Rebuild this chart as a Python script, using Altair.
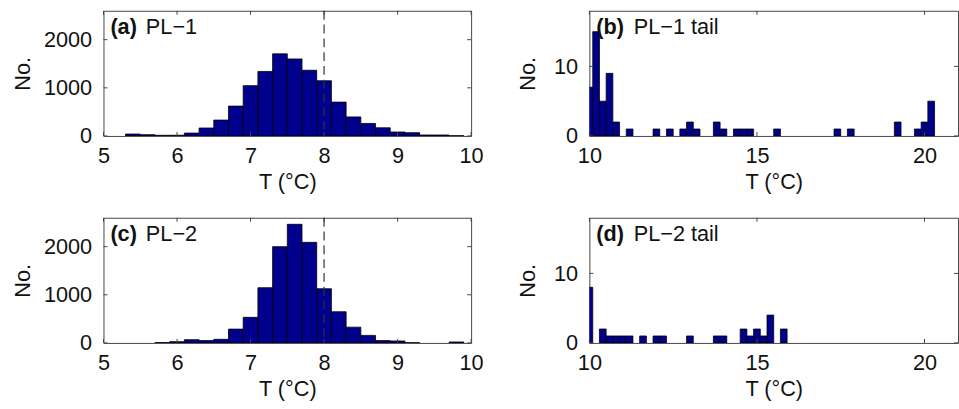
import altair as alt
import pandas as pd

# ---------------- data ----------------
PL1_T = [5.4, 5.6, 5.8, 6.0, 6.2, 6.4, 6.6, 6.8, 7.0, 7.2, 7.4, 7.6, 7.8, 8.0,
         8.2, 8.4, 8.6, 8.8, 9.0, 9.2, 9.4, 9.6, 9.8]
PL1_N = [40, 27, 14, 15, 60, 165, 330, 620, 1045, 1340, 1705, 1600, 1365, 1147,
         703, 396, 260, 170, 82, 68, 20, 20, 5]

PL2_T = [5.8, 6.0, 6.2, 6.4, 6.6, 6.8, 7.0, 7.2, 7.4, 7.6, 7.8, 8.0, 8.2, 8.4,
         8.6, 8.8, 9.0, 9.2, 9.8]
PL2_N = [7, 27, 68, 48, 75, 287, 532, 1147, 2000, 2464, 2089, 1126, 648, 328,
         157, 48, 41, 5, 20]

PL1_TAIL_T = [10.0, 10.2, 10.4, 10.6, 10.8, 11.2, 12.0, 12.4, 12.8, 13.0, 13.2,
              13.8, 14.0, 14.4, 14.6, 14.8, 15.6, 17.4, 17.8, 19.2, 19.8, 20.0, 20.2]
PL1_TAIL_N = [7, 15, 5, 9, 2, 1, 1, 1, 1, 2, 1, 2, 1, 1, 1, 1, 1, 1, 1, 2, 1, 2, 5]

PL2_TAIL_T = [10.0, 10.4, 10.6, 10.8, 11.0, 11.2, 11.6, 12.0, 12.2, 13.0, 13.8,
              14.0, 14.6, 14.8, 15.0, 15.2, 15.4, 15.8]
PL2_TAIL_N = [8, 2, 1, 1, 1, 1, 1, 1, 1, 1, 1, 1, 2, 1, 2, 1, 4, 2]

MAIN_XTICKS = [5, 6, 7, 8, 9, 10]
MAIN_YTICKS = [0, 1000, 2000]
TAIL_XTICKS = [10, 15, 20]
TAIL_YTICKS = [0, 10]
THRESHOLD = [8]

FONT = "Liberation Sans"
NAVY = "#00008c"
FRAME = "#444444"
H = 127
TICK = 4
HALF_BIN = 0.1


def panel(T, N, xdom, ydom, xticks, yticks, bold, rest, rest_dx, dashed, ytpad, W):
    def X(field):
        return alt.X(field, type="quantitative",
                     scale=alt.Scale(domain=xdom, nice=False, zero=False),
                     axis=alt.Axis(values=xticks, format="d", labelPadding=10,
                                   titlePadding=5, labelFlush=False),
                     title="T (°C)")

    def Y(field):
        return alt.Y(field, type="quantitative",
                     scale=alt.Scale(domain=ydom, nice=False),
                     axis=alt.Axis(values=yticks, format="d", labelPadding=12,
                                   titlePadding=ytpad, labelFlush=False),
                     title="No.")

    df = pd.DataFrame({"T": T, "N": N})
    bars = alt.Chart(df).transform_calculate(
        lo=f"datum.T - {HALF_BIN}", hi=f"datum.T + {HALF_BIN}"
    ).mark_rect(fill=NAVY, stroke="black", strokeWidth=0.8, clip=True).encode(
        x=X("lo"), x2="hi:Q", y=Y("N"), y2=alt.datum(0))

    xt = pd.DataFrame({"v": xticks})
    yt = pd.DataFrame({"v": yticks})
    tb = alt.Chart(xt).mark_rule(color=FRAME, strokeWidth=1).encode(
        x=X("v"), y=alt.value(H), y2=alt.value(H - TICK))
    tt = alt.Chart(xt).mark_rule(color=FRAME, strokeWidth=1).encode(
        x=X("v"), y=alt.value(0), y2=alt.value(TICK))
    tl = alt.Chart(yt).mark_rule(color=FRAME, strokeWidth=1).encode(
        y=Y("v"), x=alt.value(0), x2=alt.value(TICK))
    tr = alt.Chart(yt).mark_rule(color=FRAME, strokeWidth=1).encode(
        y=Y("v"), x=alt.value(W - TICK), x2=alt.value(W))

    layers = [bars, tb, tt, tl, tr]
    if dashed:
        dl = alt.Chart(pd.DataFrame({"v": THRESHOLD})).mark_rule(
            color="#333333", strokeDash=[9, 5], strokeWidth=1.2).encode(x=X("v"))
        layers.append(dl)

    t1 = alt.Chart(pd.DataFrame({"t": [bold]})).mark_text(
        align="left", baseline="alphabetic", font=FONT, fontSize=22,
        fontWeight="bold", color="#111111").encode(
        text="t:N", x=alt.value(7), y=alt.value(24))
    t2 = alt.Chart(pd.DataFrame({"t": [rest]})).mark_text(
        align="left", baseline="alphabetic", font=FONT, fontSize=22,
        color="#111111").encode(
        text="t:N", x=alt.value(rest_dx), y=alt.value(24))
    layers += [t1, t2]
    return alt.layer(*layers).properties(width=W, height=H)


a = panel(PL1_T, PL1_N, [5, 10], [0, 2600], MAIN_XTICKS, MAIN_YTICKS,
          "(a)", "PL\u22121", 43, True, 9, 373)
b = panel(PL1_TAIL_T, PL1_TAIL_N, [10, 21], [0, 18], TAIL_XTICKS, TAIL_YTICKS,
          "(b)", "PL\u22121 tail", 45, False, 14, 374)
c = panel(PL2_T, PL2_N, [5, 10], [0, 2600], MAIN_XTICKS, MAIN_YTICKS,
          "(c)", "PL\u22122", 43, True, 9, 373)
d = panel(PL2_TAIL_T, PL2_TAIL_N, [10, 21], [0, 18], TAIL_XTICKS, TAIL_YTICKS,
          "(d)", "PL\u22122 tail", 45, False, 14, 374)

chart = alt.concat(a, b, c, d, columns=2,
                   spacing={"row": 83, "column": 120}, bounds="flush").properties(
    padding={"left": 11, "top": 6, "right": 0, "bottom": 0},
    background="white",
).configure_view(stroke=FRAME, strokeWidth=1).configure_axis(
    grid=False, domain=False, ticks=False, tickSize=0,
    labelFont=FONT, titleFont=FONT, labelFontSize=22, titleFontSize=22,
    titleFontWeight="normal", labelColor="#111111", titleColor="#111111",
)

chart.save("out.html", embed_options={"renderer": "svg", "actions": False})
